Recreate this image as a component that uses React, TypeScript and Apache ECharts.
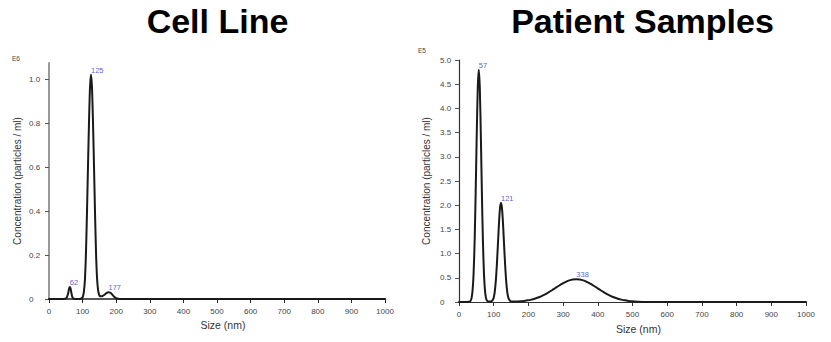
import React, { useEffect, useRef } from 'react';
import * as echarts from 'echarts';

// ---- Cell Line (concentration in E6 particles / ml) ----
const cellSizes = [0, 40, 48, 50, 52, 54, 56, 58, 60, 62, 64, 66, 68, 70, 72, 74, 80, 90, 98, 101, 104, 107, 110, 113, 116, 119, 122, 125, 128, 131, 134, 137, 140, 143, 146, 149, 152, 156, 160, 164, 168, 172, 177, 182, 186, 190, 194, 198, 203, 210, 230, 1000];
const cellConc = [0, 0, 0.001, 0.002, 0.005, 0.011, 0.02, 0.033, 0.049, 0.055, 0.049, 0.033, 0.017, 0.007, 0.003, 0.001, 0, 0, 0.004, 0.012, 0.035, 0.09, 0.21, 0.39, 0.6, 0.8, 0.96, 1.02, 0.96, 0.8, 0.6, 0.39, 0.21, 0.095, 0.042, 0.02, 0.013, 0.012, 0.014, 0.018, 0.023, 0.028, 0.031, 0.029, 0.024, 0.017, 0.01, 0.005, 0.002, 0.0005, 0, 0];
const cellPeakSizes = [62, 125, 177];
const cellPeakConc = [0.055, 1.02, 0.031];

// ---- Patient Samples (concentration in E5 particles / ml) ----
const patientSizes = [0, 30, 33, 36, 39, 42, 45, 48, 51, 54, 57, 60, 63, 66, 69, 72, 75, 78, 81, 84, 88, 91, 94, 97, 100, 103, 106, 109, 112, 115, 118, 121, 124, 127, 130, 133, 136, 139, 142, 145, 148, 152, 158, 168, 178, 188, 198, 208, 218, 228, 238, 248, 258, 268, 278, 288, 298, 308, 318, 328, 338, 348, 358, 368, 378, 388, 398, 408, 418, 428, 438, 448, 458, 468, 478, 488, 498, 508, 518, 535, 560, 1000];
const patientConc = [0, 0.005, 0.02, 0.075, 0.23, 0.58, 1.24, 2.24, 3.42, 4.41, 4.8, 4.41, 3.42, 2.24, 1.24, 0.58, 0.23, 0.075, 0.025, 0.012, 0.01, 0.01, 0.018, 0.04, 0.09, 0.21, 0.43, 0.76, 1.17, 1.6, 1.93, 2.05, 1.93, 1.6, 1.17, 0.76, 0.43, 0.21, 0.095, 0.045, 0.02, 0.01, 0.01, 0.012, 0.015, 0.023, 0.034, 0.049, 0.068, 0.092, 0.123, 0.158, 0.199, 0.243, 0.29, 0.336, 0.379, 0.416, 0.446, 0.464, 0.47, 0.464, 0.446, 0.416, 0.379, 0.336, 0.29, 0.243, 0.199, 0.158, 0.123, 0.092, 0.068, 0.049, 0.034, 0.023, 0.015, 0.0097, 0.006, 0.002, 0, 0];
const patientPeakSizes = [57, 121, 338];
const patientPeakConc = [4.8, 2.05, 0.47];

const titles = ['Cell Line', 'Patient Samples'];
const exponents = ['E6', 'E5'];
const xName = 'Size (nm)';
const yName = 'Concentration (particles / ml)';
const xTicks = { min: 0, max: 1000, interval: 100 };

const FONT = '"Liberation Sans", Arial, Helvetica, sans-serif';
const PEAK_COLOR = '#3434c8';

const zip = (xs: number[], ys: number[]) => xs.map((x, i) => [x, ys[i]]);

function makeX(gridIndex: number, color: string, width: number, nameGap: number) {
  return {
    type: 'value',
    gridIndex,
    min: xTicks.min,
    max: xTicks.max,
    interval: xTicks.interval,
    name: xName,
    nameLocation: 'middle',
    nameGap,
    nameTextStyle: { fontFamily: FONT, fontSize: 10.5, color: '#333', padding: [0, 0, 0, 12] },
    axisLine: { show: true, lineStyle: { color, width } },
    axisTick: { show: true, length: 4, lineStyle: { color, width: 1 } },
    axisLabel: { fontFamily: FONT, fontSize: 8, color: '#444', margin: 8, formatter: (v: number) => String(v) },
    splitLine: { show: false },
  };
}

function makeY(gridIndex: number, max: number, interval: number, color: string, width: number, margin: number, nameGap: number) {
  return {
    type: 'value',
    gridIndex,
    min: 0,
    max,
    interval,
    name: yName,
    nameLocation: 'middle',
    nameGap,
    nameTextStyle: { fontFamily: FONT, fontSize: 10, color: '#333' },
    axisLine: { show: true, lineStyle: { color, width } },
    axisTick: { show: true, length: 4, lineStyle: { color: '#555', width: 1 } },
    axisLabel: {
      fontFamily: FONT,
      fontSize: 8,
      color: '#444',
      align: 'left',
      margin,
      showMaxLabel: Math.abs(max / interval - Math.round(max / interval)) < 1e-6,
      formatter: (v: number) => {
        if (Math.abs(v / interval - Math.round(v / interval)) > 1e-6) return '';
        return v === 0 ? '0' : v.toFixed(1);
      },
    },
    splitLine: { show: false },
  };
}

function lineSeries(idx: number, data: number[][]) {
  return {
    type: 'line',
    xAxisIndex: idx,
    yAxisIndex: idx,
    data,
    showSymbol: false,
    smooth: 0.25,
    silent: true,
    lineStyle: { color: '#1a1a1a', width: 2, join: 'round', cap: 'round' },
    z: 3,
  };
}

function peakSeries(idx: number, data: number[][]) {
  return {
    type: 'scatter',
    xAxisIndex: idx,
    yAxisIndex: idx,
    data,
    symbolSize: 1,
    silent: true,
    itemStyle: { color: 'rgba(0,0,0,0)' },
    label: {
      show: true,
      position: 'top',
      distance: 0,
      align: 'left',
      fontFamily: FONT,
      fontSize: 7.5,
      color: PEAK_COLOR,
      formatter: (p: any) => String(p.value[0]),
    },
    z: 4,
  };
}

export default function App() {
  const ref = useRef<HTMLDivElement>(null);
  useEffect(() => {
    if (!ref.current) return;
    const chart = echarts.init(ref.current, null, { renderer: 'svg' });
    chart.setOption({
      animation: false,
      backgroundColor: '#ffffff',
      grid: [
        { left: 49, top: 63, width: 336, height: 236 },
        { left: 459, top: 60, width: 347, height: 242 },
      ],
      xAxis: [makeX(0, '#222', 1.5, 19), makeX(1, '#333', 1.2, 21)],
      yAxis: [
        makeY(0, 236 / 220, 0.2, '#9a9a9a', 2, 20, 26.5),
        makeY(1, 5, 0.5, '#333', 1.2, 19, 27.5),
      ],
      series: [
        lineSeries(0, zip(cellSizes, cellConc)),
        peakSeries(0, zip(cellPeakSizes, cellPeakConc)),
        lineSeries(1, zip(patientSizes, patientConc)),
        peakSeries(1, zip(patientPeakSizes, patientPeakConc)),
      ],
      graphic: [
        {
          type: 'text',
          x: 217.5,
          y: 21,
          style: { text: titles[0], fill: '#000', font: `bold 34px ${FONT}`, align: 'center', verticalAlign: 'middle' },
        },
        {
          type: 'text',
          x: 642.5,
          y: 21,
          style: { text: titles[1], fill: '#000', font: `bold 34px ${FONT}`, align: 'center', verticalAlign: 'middle' },
        },
        {
          type: 'text',
          x: 12,
          y: 58.5,
          style: { text: exponents[0], fill: '#444', font: `6.5px ${FONT}`, align: 'left', verticalAlign: 'middle' },
        },
        {
          type: 'text',
          x: 418,
          y: 50,
          style: { text: exponents[1], fill: '#444', font: `6.5px ${FONT}`, align: 'left', verticalAlign: 'middle' },
        },
      ],
    });
    return () => chart.dispose();
  }, []);
  return (
    <div
      ref={ref}
      style={{ position: 'fixed', left: 0, top: 0, width: 831, height: 342, background: '#fff' }}
    />
  );
}
